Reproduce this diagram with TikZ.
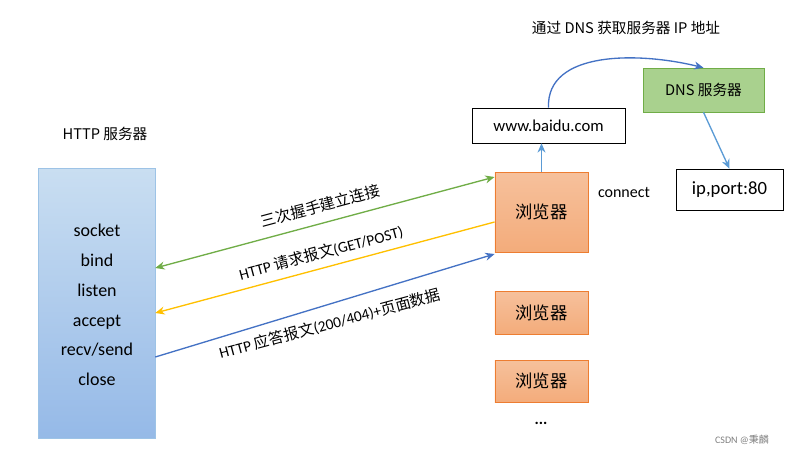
\documentclass[tikz,border=0pt]{standalone}
\usepackage{fontspec}
\setmainfont{Carlito}
\newfontfamily\cjk{Noto Sans CJK SC}
\newcommand{\zh}[1]{{\cjk #1}}
\usetikzlibrary{arrows.meta}
\definecolor{srvblue}{RGB}{157,195,230}
\definecolor{srvedge}{RGB}{157,195,230}
\definecolor{brfill}{RGB}{244,177,131}
\definecolor{bredge}{RGB}{237,125,49}
\definecolor{dnsfill}{RGB}{169,209,142}
\definecolor{dnsedge}{RGB}{112,173,71}
\definecolor{lnkgreen}{RGB}{112,173,71}
\definecolor{lnkyellow}{RGB}{255,192,0}
\definecolor{lnkblue}{RGB}{68,114,196}
\definecolor{lnksky}{RGB}{91,155,213}
\tikzset{
  browser/.style={draw=bredge,top color=brfill!80,bottom color=brfill!90!bredge,minimum width=70pt,inner sep=0pt,font=\cjk\fontsize{13}{15}\selectfont},
  plainbox/.style={draw=black,fill=white,inner sep=0pt,font=\fontsize{12.5}{14}\selectfont},
  msg/.style={line width=1pt,-{Stealth[length=7pt,width=6pt]}},
  lbl/.style={font=\fontsize{11.5}{13}\selectfont,rotate=15,inner sep=1pt}
}
\begin{document}
\begin{tikzpicture}[x=0.75pt,y=0.75pt,yscale=-1,xscale=1]
  \useasboundingbox (0,0) rectangle (788,454);
  % server
  \node (srv) [draw=srvedge,top color=srvblue!55,bottom color=srvblue!95!blue,minimum width=87.75pt,minimum height=202.5pt,inner sep=0pt] at (96.5,303) {};
  \node (srvtitle) [font=\cjk\fontsize{11}{13}\selectfont] at (105,134) {HTTP 服务器};
  \node (srvcalls) [align=center,font=\fontsize{13.5}{22.3}\selectfont] at (97,305) {socket\\bind\\listen\\accept\\recv/send\\close};
  % browsers
  \node (br1) [browser,minimum height=60pt] at (541.5,212) {浏览器};
  \node (br2) [browser,minimum height=32pt] at (541.5,312.5) {浏览器};
  \node (br3) [browser,minimum height=31.5pt] at (541.5,381) {浏览器};
  \node (dots) [font=\bfseries\fontsize{12}{14}\selectfont] at (541,423) {...};
  \node (conn) [font=\fontsize{12}{13}\selectfont] at (624,192) {connect};
  % dns side
  \node (www) [plainbox,minimum width=114.75pt,minimum height=26.25pt] at (548.5,125.5) {www.baidu.com};
  \node (dns) [draw=dnsedge,fill=dnsfill,minimum width=90.75pt,minimum height=33pt,inner sep=0pt,font=\cjk\fontsize{11}{13}\selectfont] at (703.5,90) {DNS 服务器};
  \node (ip) [plainbox,minimum width=80.25pt,minimum height=30.75pt,font=\fontsize{14}{15}\selectfont] at (729.5,189.5) {ip,port:80};
  \node (dnstitle) [font=\cjk\fontsize{11}{13}\selectfont] at (626,28) {通过 DNS 获取服务器 IP 地址};
  \node (mark) [text=gray,font=\fontsize{7.5}{9}\selectfont] at (742,440) {CSDN @\zh{秉麟}};
  % links
  \draw [msg,lnkgreen,{Stealth[length=7pt,width=6pt]}-{Stealth[length=7pt,width=6pt]}] (srv.east |- 0,268) -- (br1.west |- 0,177)
    node [lbl,midway,above=6pt,text=black] {\zh{三次握手建立连接}};
  \draw [msg,lnkyellow] (br1.west |- 0,222) -- (srv.east |- 0,313)
    node [lbl,midway,above=4pt,text=black] {HTTP \zh{请求报文}(GET/POST)};
  \draw [msg,lnkblue] (srv.east |- 0,357) -- (br1.west |- 0,254)
    node [lbl,midway,below=7pt,text=black] {HTTP \zh{应答报文}(200/404)+\zh{页面数据}};
  \draw [msg,lnksky] (br1.north) -- (www.south -| br1.north);
  \draw [msg,lnkblue] (www.north) .. controls (546,50) and (640,52) .. (dns.north);
  \draw [msg,lnksky] (dns.south) -- (ip.north);
\end{tikzpicture}
\end{document}
